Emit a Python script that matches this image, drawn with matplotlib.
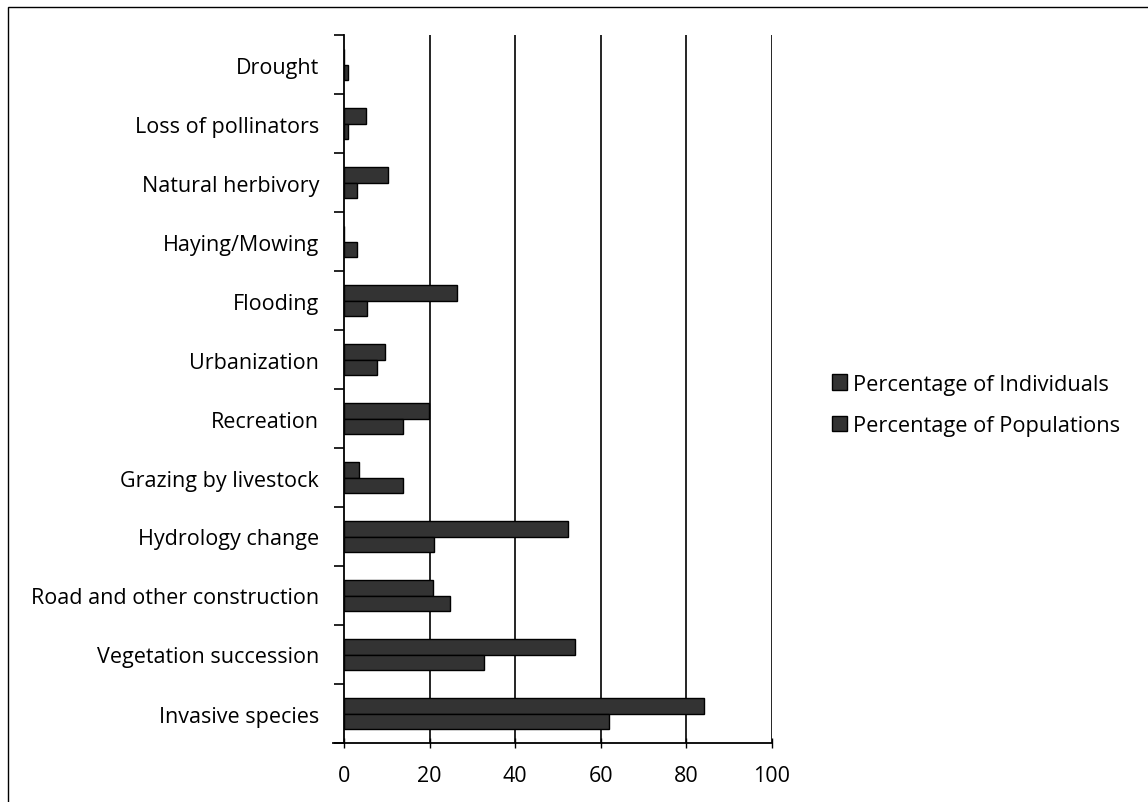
import numpy as np
import matplotlib.pyplot as plt
from matplotlib.patches import Rectangle

categories = ['Invasive species', 'Vegetation succession', 'Road and other construction',
              'Hydrology change', 'Grazing by livestock', 'Recreation', 'Urbanization',
              'Flooding', 'Haying/Mowing', 'Natural herbivory', 'Loss of pollinators', 'Drought']
individuals = [84, 54, 20.8, 52.3, 3.4, 19.9, 9.6, 26.4, 0, 10.2, 5.1, 0]
populations = [62, 32.8, 24.7, 21, 13.9, 13.7, 7.6, 5.4, 3, 3, 1, 0.9]
series_names = ['Percentage of Individuals', 'Percentage of Populations']

plt.rcParams['font.family'] = ['Open Sans', 'DejaVu Sans']

fig = plt.figure(figsize=(11.48, 8.03), dpi=100)
ax = fig.add_axes([344 / 1148, 1 - 744 / 803, 428 / 1148, 708 / 803])

y = np.arange(len(categories))
h = 0.265
bar_kw = dict(height=h, color='#333333', edgecolor='black', linewidth=1.0, zorder=3)
ax.barh(y + h / 2, individuals, label=series_names[0], **bar_kw)
ax.barh(y - h / 2, populations, label=series_names[1], **bar_kw)

ax.set_xlim(0, 100)
ax.set_ylim(-0.5, len(categories) - 0.5)
ax.set_xticks(np.arange(0, 101, 20))
ax.set_yticks(y)
ax.set_yticklabels(categories)
ax.set_yticks(np.arange(-0.5, len(categories)), minor=True)
ax.tick_params(axis='y', which='major', length=0, pad=18, labelsize=15.5)
ax.tick_params(axis='y', which='minor', length=7, width=1.2, direction='out')
ax.tick_params(axis='x', length=7, width=1.0, direction='inout', labelsize=15.5, pad=12)
for x in range(20, 101, 20):
    ax.axvline(x, color='black', linewidth=1.2, zorder=1)
for s in ['top', 'right']:
    ax.spines[s].set_visible(False)
ax.spines['left'].set_linewidth(1.3)
ax.spines['bottom'].set_linewidth(1.3)
ax.spines['bottom'].set_bounds(-2.5, 100)

fig.legend(loc='center left', bbox_to_anchor=(812 / 1148, 1 - 406 / 803),
           frameon=False, fontsize=15.7, handlelength=0.7, handleheight=0.7,
           handletextpad=0.3, labelspacing=0.95)

fig.patches.append(Rectangle((8 / 1148, -0.01), 1.5, 1 - 8 / 803 + 0.01,
                             transform=fig.transFigure, fill=False,
                             edgecolor='black', linewidth=1.0))

fig.savefig('out.png', dpi=100)
